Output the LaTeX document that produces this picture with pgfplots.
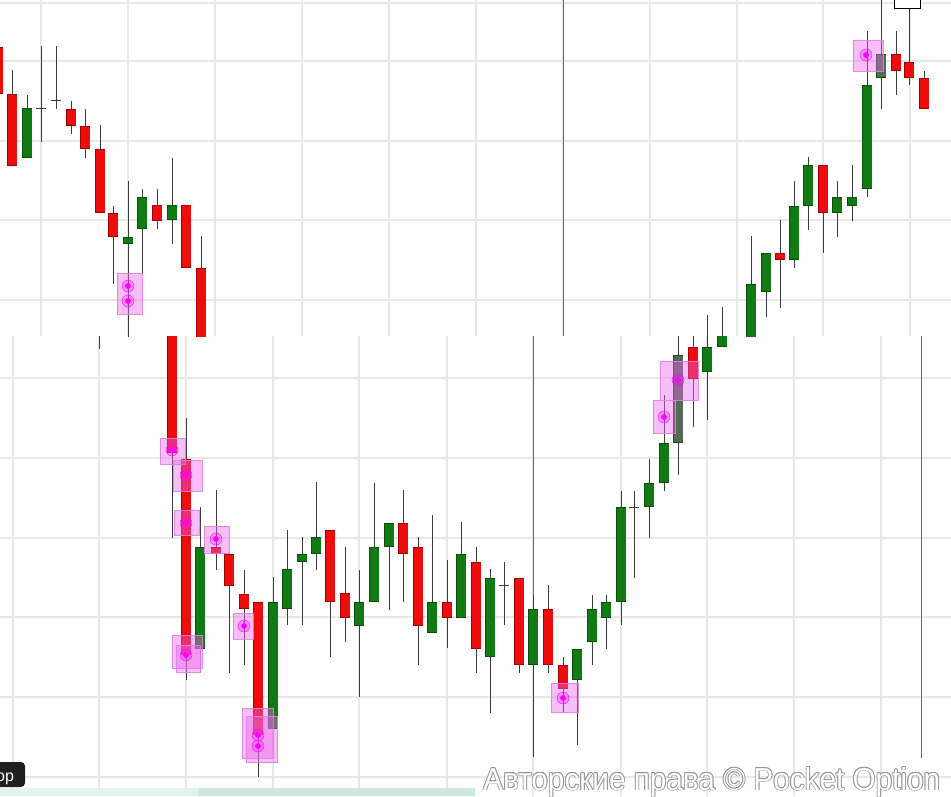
\documentclass[border=0pt]{standalone}
\usepackage{pgfplots}
\pgfplotsset{compat=1.18}
\usepackage{pgfplotstable}
\usepackage{graphicx}
\usepackage{fontspec}
\setmainfont{Liberation Sans}

\definecolor{cred}{RGB}{238,12,12}
\definecolor{credb}{RGB}{165,0,0}
\definecolor{cgreen}{RGB}{18,122,18}
\definecolor{cgreenb}{RGB}{8,80,8}
\definecolor{cgrey}{RGB}{86,104,86}
\definecolor{wickc}{RGB}{60,60,60}
\definecolor{gridc}{RGB}{232,232,232}
\definecolor{pinkf}{RGB}{235,100,235}
\definecolor{pinkd}{RGB}{222,130,228}
\definecolor{dotc}{RGB}{255,0,255}
\definecolor{vline}{RGB}{105,105,105}
\definecolor{wmgrey}{RGB}{150,150,150}
\definecolor{stripA}{RGB}{226,242,238}
\definecolor{stripB}{RGB}{204,232,225}

% ---------- data (pixel units, y measured downward) ----------
% columns: x, body top, body bottom, wick top, wick bottom
\pgfplotstableread{
x bt bb wt wb
-2 47 94 47 94
12 94 166 70 166
71 109 126 101 134
85 126 149 109 158
100 149 213 125 213
113 213 237 206 284
157 205 221 189 229
186 205 268 205 268
201 268 345 236 345
780 253 260 220 308
823 165 213 165 253
896 54 71 31 95
909 62 78 9 85
924 78 109 71 109
}\topred
\pgfplotstableread{
x bt bb wt wb
27 108 158 95 158
128 237 244 181 345
142 197 229 189 273
172 205 220 158 244
751 284 345 236 345
766 253 292 253 317
794 206 260 181 268
808 165 206 157 230
837 197 213 181 237
852 197 206 165 221
867 85 189 31 197
}\topgreen
\pgfplotstableread{
x bt bb wt wb
881 54 78 0 109
}\topgrey
\pgfplotstableread{
x y wt wb
41 109 46 142
56 101 46 109
}\topdoji
\pgfplotstableread{
x wt wb
707 315 345
722 307 345
}\topwick

\pgfplotstableread{
x bt bb wt wb
172 330 453 330 538
186 459 655 418 680
216 547 554 490 570
229 554 586 554 673
244 594 609 570 665
258 602 735 602 777
330 530 602 530 657
345 593 618 547 642
403 523 554 490 602
418 547 626 537 665
447 602 618 560 648
476 562 649 547 673
519 578 665 578 673
548 609 665 585 673
563 665 689 657 713
693 347 379 330 427
}\botred
\pgfplotstableread{
x bt bb wt wb
200 547 649 507 673
273 602 729 577 729
287 569 609 530 625
302 554 562 537 625
316 537 554 482 570
359 602 626 570 697
374 547 602 483 602
389 523 547 523 610
432 602 633 515 633
461 554 618 522 618
490 578 657 569 713
533 609 665 595 757
577 649 680 649 745
592 609 642 595 665
606 602 618 595 649
621 507 602 491 625
649 483 507 459 538
664 443 483 395 491
707 347 372 330 420
722 330 347 330 347
}\botgreen
\pgfplotstableread{
x bt bb wt wb
678 355 443 330 475
}\botgrey
\pgfplotstableread{
x y wt wb
504 585 562 625
634 507 491 578
}\botdoji
\pgfplotstableread{
x wt wb
99 330 349
}\botwick

\pgfplotsset{
  panel/.style={scale only axis, width=951pt, xmin=0, xmax=951, y dir=reverse,
    anchor=south west, axis line style={draw=none}, tick style={draw=none},
    xticklabels={}, yticklabels={}, grid=major,
    major grid style={draw=gridc, line width=1.3pt}},
  eb/.style={draw=none, mark=none,
    /pgfplots/error bars/y dir=both, /pgfplots/error bars/y explicit,
    /pgfplots/error bars/error mark=none,
    /pgfplots/error bars/error bar style={#1}},
  ebx/.style={draw=none, mark=none,
    /pgfplots/error bars/x dir=both, /pgfplots/error bars/x explicit,
    /pgfplots/error bars/error mark=none,
    /pgfplots/error bars/error bar style={#1}},
}

\newcommand{\wicks}[1]{%
  \addplot[eb={line width=1pt, draw=wickc}] table[x=x,
    y expr={(\thisrow{wt}+\thisrow{wb})/2},
    y error expr={(\thisrow{wb}-\thisrow{wt})/2}] {#1};}
\newcommand{\candles}[3]{%
  \wicks{#1}
  \addplot[eb={line width=10.8pt, draw=#3}] table[x=x,
    y expr={(\thisrow{bt}+\thisrow{bb})/2},
    y error expr={(\thisrow{bb}-\thisrow{bt})/2}] {#1};
  \addplot[eb={line width=9.0pt, draw=#2}] table[x=x,
    y expr={(\thisrow{bt}+\thisrow{bb})/2},
    y error expr={max((\thisrow{bb}-\thisrow{bt})/2-0.9,0)}] {#1};}
\newcommand{\dojis}[1]{%
  \wicks{#1}
  \addplot[ebx={line width=1pt, draw=wickc}] table[x=x, y=y,
    x error expr={5.3}] {#1};}
\newcommand{\pbox}[4]{%
  \addplot[fill=pinkf, fill opacity=0.42, draw=pinkd, draw opacity=0.9, line width=0.8pt]
    coordinates {(#1,#3) (#2,#3) (#2,#4) (#1,#4) (#1,#3)};}
\newcommand{\hdots}[1]{%
  \addplot[color=dotc, only marks, mark=*, mark size=6pt, mark options={draw=none, fill=dotc, fill opacity=0.25}] coordinates {#1};
  \addplot[color=dotc, only marks, mark=*, mark size=2.6pt, mark options={draw=dotc, fill=dotc}] coordinates {#1};}

\newcommand{\wm}{\resizebox{457pt}{23pt}{Авторские права © Pocket Option}}

\begin{document}
\begin{tikzpicture}
\useasboundingbox (0,0) rectangle (951pt,796pt);

% ---------------- top panel ----------------
\begin{axis}[panel, at={(0pt,460pt)}, height=336pt, ymin=0, ymax=336,
  xtick={41,128,215,302,389,476,563,650,737,823,910},
  ytick={3,61,141,220,300}]
  \addplot[vline, line width=1pt] coordinates {(563,0) (563,336)};
  \candles{\topred}{cred}{credb}
  \candles{\topgreen}{cgreen}{cgreenb}
  \candles{\topgrey}{cgrey}{cgreenb}
  \dojis{\topdoji}
  \wicks{\topwick}
  \pbox{117}{142}{273}{314}
  \pbox{853}{883}{40}{71}
  \hdots{(128,286) (128,301) (866,55)}
  \addplot[draw=black, fill=white, line width=1pt]
    coordinates {(894,-3) (920,-3) (920,9) (894,9) (894,-3)};
\end{axis}

% ---------------- bottom panel ----------------
\begin{axis}[panel, at={(0pt,0pt)}, height=460pt, ymin=336, ymax=796,
  xtick={13,99,186,273,359,447,533,621,707,794,881},
  ytick={378,458,538,617,697,777}]
  \addplot[vline, line width=1pt] coordinates {(533,336) (533,757)};
  \addplot[vline, line width=1pt] coordinates {(921,336) (921,758)};
  \candles{\botred}{cred}{credb}
  \candles{\botgreen}{cgreen}{cgreenb}
  \candles{\botgrey}{cgrey}{cgreenb}
  \dojis{\botdoji}
  \wicks{\botwick}
  \pbox{160}{185}{438}{464}
  \pbox{173}{202}{460}{491}
  \pbox{174}{199}{510}{535}
  \pbox{172}{202}{635}{668}
  \pbox{176}{200}{645}{672}
  \pbox{204}{229}{526}{553}
  \pbox{233}{253}{613}{639}
  \pbox{242}{273}{708}{758}
  \pbox{246}{277}{716}{762}
  \pbox{551}{578}{683}{712}
  \pbox{660}{698}{361}{400}
  \pbox{653}{675}{400}{433}
  \hdots{(172,450) (186,475) (186,523) (186,655) (216,539) (244,626) (258,735) (258,746) (563,698) (664,417) (678,380)}
\end{axis}

% ---------------- interface overlays ----------------
\fill[stripA] (0pt,0pt) rectangle (198pt,8pt);
\fill[stripB] (198pt,0pt) rectangle (475pt,8pt);
\fill[black!88, rounded corners=4pt] (-6pt,9pt) rectangle (25pt,34pt);
\node[anchor=base west, inner sep=0pt, text=white, font=\fontsize{16}{16}\selectfont] at (-4pt,15pt) {op};
\foreach \dx/\dy in {-0.9/0,0.9/0,0/-0.9,0/0.9,-0.65/-0.65,0.65/0.65,-0.65/0.65,0.65/-0.65}
  {\node[anchor=base west, inner sep=0pt, text=wmgrey, xshift=\dx pt, yshift=\dy pt] at (483pt,6pt) {\wm};}
\node[anchor=base west, inner sep=0pt, text=white] at (483pt,6pt) {\wm};
\end{tikzpicture}
\end{document}
